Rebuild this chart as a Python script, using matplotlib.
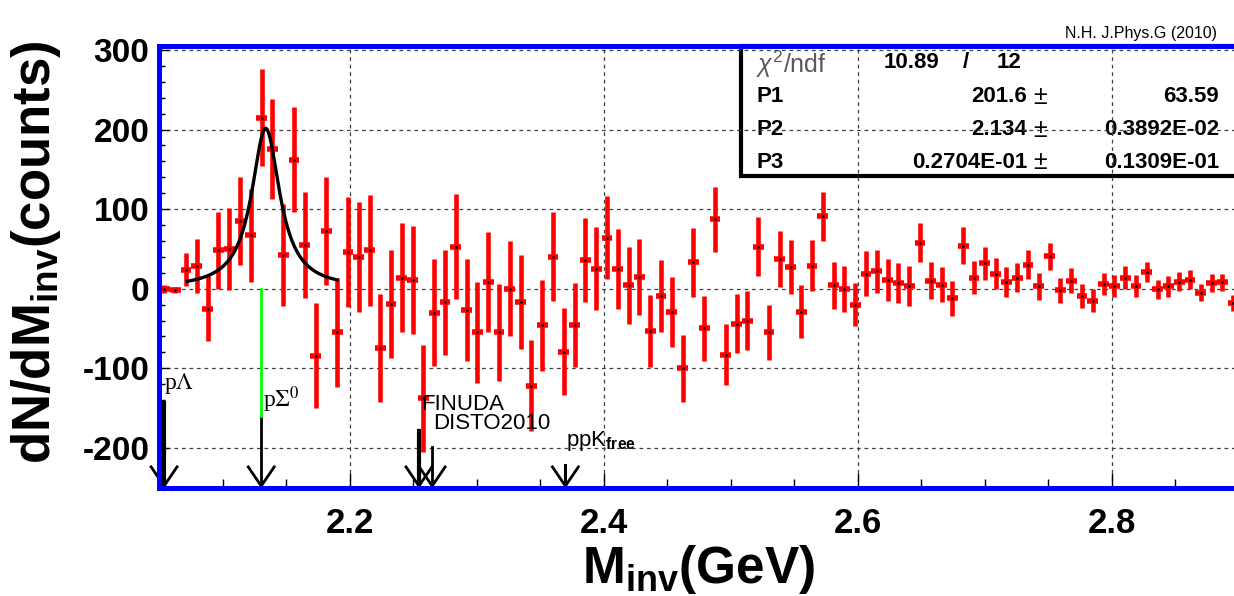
import numpy as np
import matplotlib
matplotlib.use("Agg")
import matplotlib.pyplot as plt
from matplotlib.patches import Rectangle
from matplotlib.ticker import MultipleLocator, FixedLocator, FixedFormatter

plt.rcParams['font.family'] = ['Liberation Sans', 'DejaVu Sans']
plt.rcParams['mathtext.fontset'] = 'custom'
plt.rcParams['mathtext.rm'] = 'Liberation Sans'
plt.rcParams['mathtext.bf'] = 'Liberation Sans:bold'
plt.rcParams['mathtext.it'] = 'Liberation Sans:italic'
plt.rcParams['axes.unicode_minus'] = False

# histogram: 100 bins between 2.05 and 2.9 GeV
bin_lo, bin_hi, n_bins = 2.05, 2.9, 100
counts = [0, -2, 24, 28, -25, 48, 50, 85, 67, 215,
          176, 42, 162, 55, -84, 72, -55, 46, 40, 48,
          -75, -19, 14, 11, -138, -30, -17, 53, -27, -55,
          8, -55, 0, -17, -122, -46, 40, -79, -46, 36,
          25, 64, 25, 4, 15, -53, -9, -29, -100, 33,
          -50, 87, -83, -44, -40, 53, -55, 37, 27, -29,
          29, 91, 4, 0, -20, 19, 22, 11, 7, 3,
          58, 10, 5, -12, 54, 14, 32, 19, 8, 14,
          30, 3, 41, -2, 10, -9, -15, 6, 3, 14,
          3, 21, -1, 3, 9, 11, -5, 7, 8, -18]
errors = [5, 4, 21, 34, 41, 48, 52, 55, 58, 61,
          63, 64, 66, 67, 66, 68, 68, 69, 69, 70,
          68, 68, 68, 68, 67, 67, 66, 66, 64, 63,
          63, 61, 60, 59, 57, 57, 56, 55, 53, 53,
          52, 52, 50, 48, 48, 45, 45, 44, 42, 43,
          41, 41, 38, 37, 37, 37, 35, 35, 34, 33,
          32, 31, 30, 29, 27, 28, 27, 26, 25, 25,
          25, 23, 22, 22, 23, 21, 21, 20, 19, 18,
          18, 17, 17, 16, 16, 15, 14, 14, 14, 14,
          14, 13, 12, 13, 12, 12, 11, 11, 11, 10]

# Lorentzian fit: P1 = height, P2 = mean, P3 = FWHM
fit_p = [201.6, 2.134, 0.02704]
fit_range = (2.0724, 2.1903)

# threshold arrows
arrow_x = [2.054, 2.1305, 2.2547, 2.2651, 2.370]
arrow_top = [-144, -160, -179, -199, -222]
arrow_lw = [3.0, 2.0, 3.0, 2.0, 2.2]
green_top = 0  # green part of the pSigma0 line
xticks = [2.2, 2.4, 2.6, 2.8]
xtick_labels = ['2.2', '2.4', '2.6', '2.8']
yticks = [-200, -100, 0, 100, 200, 300]
ytick_labels = ['-200', '-100', '0', '100', '200', '300']

stat_rows = [('P1', '201.6', '63.59'),
             ('P2', '2.134', '0.3892E-02'),
             ('P3', '0.2704E-01', '0.1309E-01')]

W, H = 1234, 596
fig = plt.figure(figsize=(W / 100, H / 100), dpi=100)
ax = fig.add_axes([159 / W, 1 - 487.6 / H, 1079.5 / W, 441.6 / H])


def fx(x):
    return x / W


def fy(y):
    return 1 - y / H


edges = np.linspace(bin_lo, bin_hi, n_bins + 1)
centers = 0.5 * (edges[:-1] + edges[1:])
half = 0.5 * (bin_hi - bin_lo) / n_bins

ax.errorbar(centers, counts, yerr=errors, fmt='none', ecolor='#ff0000',
            elinewidth=3.3, capsize=0, zorder=3)
ax.errorbar(centers, counts, xerr=half, fmt='none', ecolor='#ff0000',
            elinewidth=4.0, capsize=0, zorder=3)
ax.plot(centers, counts, ls='none', marker='s', ms=0.8, color='black', zorder=4)

xf = np.linspace(fit_range[0], fit_range[1], 300)
yf = fit_p[0] / (1 + 4 * ((xf - fit_p[1]) / fit_p[2]) ** 2)
ax.plot(xf, yf, color='black', lw=2.4, zorder=5)

# arrows to the thresholds
tip = -248
for i, (x, top) in enumerate(zip(arrow_x, arrow_top)):
    ax.plot([x, x], [top, tip], color='black', lw=arrow_lw[i], zorder=6, clip_on=False)
    ax.plot([x - 0.0102, x, x + 0.0102], [tip + 24, tip, tip + 24],
            color='black', lw=2.0, zorder=6, clip_on=False)
ax.plot([arrow_x[1], arrow_x[1]], [green_top, arrow_top[1]], color='#00ff00', lw=2.0, zorder=6)

ax.text(arrow_x[0] + 0.0003, -119, r'p$\Lambda$', fontsize=17, family='Liberation Serif',
        math_fontfamily='stix', va='center', ha='left', zorder=7)
ax.text(arrow_x[1] + 0.0012, -140, r'p$\Sigma^0$', fontsize=17, family='Liberation Serif',
        math_fontfamily='stix', va='center', ha='left', zorder=7)
ax.text(arrow_x[2] + 0.002, -146, 'FINUDA', fontsize=16, va='center', ha='left', zorder=7)
ax.text(arrow_x[3] + 0.0005, -170, 'DISTO2010', fontsize=16, va='center', ha='left', zorder=7)
ax.text(arrow_x[4] + 0.0005, -192, r'ppK$_{\mathbf{free}}$', fontsize=16, va='center',
        ha='left', zorder=7)

ax.set_xlim(bin_lo, bin_hi)
ax.set_ylim(-250, 305)

ax.xaxis.set_major_locator(FixedLocator(xticks))
ax.xaxis.set_major_formatter(FixedFormatter(xtick_labels))
ax.xaxis.set_minor_locator(MultipleLocator(0.05))
ax.yaxis.set_major_locator(FixedLocator(yticks))
ax.yaxis.set_major_formatter(FixedFormatter(ytick_labels))
ax.yaxis.set_minor_locator(MultipleLocator(20))
ax.tick_params(axis='x', which='major', direction='in', length=11, width=1, pad=14,
               labelsize=25)
ax.tick_params(axis='x', which='minor', direction='in', length=6.5, width=1)
ax.tick_params(axis='y', which='major', direction='in', length=7, width=1, pad=7,
               labelsize=24)
ax.tick_params(axis='y', which='minor', direction='in', length=4.5, width=1)
for lab in ax.get_xticklabels() + ax.get_yticklabels():
    lab.set_fontweight('bold')

ax.set_axisbelow('line')
ax.grid(True, which='major', color='0.25', lw=0.9, ls=(0, (3, 3)))

for side in ['left', 'top', 'bottom']:
    ax.spines[side].set_color('#0000ff')
    ax.spines[side].set_linewidth(3.6)
    ax.spines[side].set_zorder(8)
ax.spines['right'].set_visible(False)

# fit statistics box (grid is drawn over it, like in the original)
box = Rectangle((fx(741), fy(176)), fx(520), fy(46) - fy(176), transform=fig.transFigure,
                facecolor='white', edgecolor='black', lw=3.0, zorder=1, clip_on=False)
ax.add_patch(box)
ax.text(fx(756), fy(64), r'$\chi^2$/ndf', transform=fig.transFigure, fontsize=18,
        color='0.35', va='center', ha='left', zorder=1.2)
ax.text(fx(884), fy(63), '10.89', transform=fig.transFigure, fontsize=16,
        fontweight='bold', va='center', ha='left', zorder=1.2)
ax.text(fx(963), fy(63), '/', transform=fig.transFigure, fontsize=16,
        fontweight='bold', va='center', ha='left', zorder=1.2)
ax.text(fx(997), fy(63), '12', transform=fig.transFigure, fontsize=16,
        fontweight='bold', va='center', ha='left', zorder=1.2)
for k, (name, val, err) in enumerate(stat_rows):
    yy = fy(97 + 32.5 * k)
    ax.text(fx(756), yy, name, transform=fig.transFigure, fontsize=16,
            fontweight='bold', va='center', ha='left', zorder=1.2)
    ax.text(fx(1027), yy, val, transform=fig.transFigure, fontsize=16,
            fontweight='bold', va='center', ha='right', zorder=1.2)
    ax.text(fx(1040), yy, '\u00b1', transform=fig.transFigure, fontsize=18,
            va='center', ha='center', zorder=1.2)
    ax.text(fx(1219), yy, err, transform=fig.transFigure, fontsize=16,
            fontweight='bold', va='center', ha='right', zorder=1.2)

fig.text(fx(1217), fy(38), 'N.H. J.Phys.G (2010)', fontsize=11.5, ha='right', va='baseline')

fig.text(fx(36), fy(252), r'$\mathbf{dN/dM_{inv}}$(counts)', rotation=90, fontsize=38,
         fontweight='bold', ha='center', va='center')
fig.text(fx(699), fy(583), r'$\mathbf{M_{inv}}$(GeV)', fontsize=37, fontweight='bold',
         ha='center', va='baseline')

fig.savefig('out.png', dpi=100)
